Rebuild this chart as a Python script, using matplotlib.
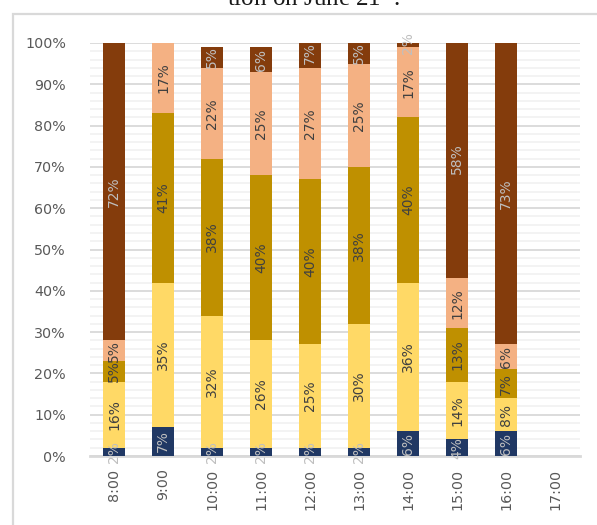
import numpy as np
import matplotlib.pyplot as plt
from matplotlib.patches import Rectangle

# hourly shares (%) per category, bottom to top of each stack
times = ['8:00', '9:00', '10:00', '11:00', '12:00', '13:00', '14:00', '15:00', '16:00', '17:00']
navy = [2, 7, 2, 2, 2, 2, 6, 4, 6, 0]
yellow = [16, 35, 32, 26, 25, 30, 36, 14, 8, 0]
gold = [5, 41, 38, 40, 40, 38, 40, 13, 7, 0]
salmon = [5, 17, 22, 25, 27, 25, 17, 12, 6, 0]
brown = [72, 0, 5, 6, 7, 5, 2, 58, 73, 0]

series = [navy, yellow, gold, salmon, brown]
colors = ['#203864', '#FFD966', '#BF9000', '#F4B183', '#843C0C']
label_colors = ['#BFBFBF', '#404040', '#404040', '#404040', '#BFBFBF']

plt.rcParams['font.family'] = 'DejaVu Sans'

fig = plt.figure(figsize=(5.97, 5.25), dpi=100)
ax = fig.add_axes([89.5 / 597, 69 / 525, 490 / 597, 413 / 525])

# outer chart frame, runs off the right and bottom edges
fig.patches.append(Rectangle((13 / 597, -0.1), 1.2, 1.1 - 14 / 525,
                             transform=fig.transFigure, fill=False,
                             edgecolor='#D9D9D9', linewidth=1.6))

fig.text(313 / 597, 1 - 5.5 / 525, 'tion on June 21$^{\\mathregular{st}}$.',
         ha='center', va='baseline', fontsize=18,
         family='Liberation Serif', color='#1a1a1a')

x = np.arange(len(times))
bottom = np.zeros(len(times))
for vals, c, lc in zip(series, colors, label_colors):
    v = np.array(vals) / 100.0
    ax.bar(x, v, 0.45, bottom=bottom, color=c, linewidth=0, zorder=3)
    for xi, b, h in zip(x, bottom, v):
        if h > 0:
            ax.text(xi, b + h / 2, f'{round(h * 100)}%', rotation=90,
                    ha='center', va='center', fontsize=10, color=lc,
                    zorder=4, clip_on=False)
    bottom = bottom + v

ax.set_xlim(-0.5, len(times) - 0.5)
ax.set_ylim(0, 1)
ax.set_yticks(np.arange(0, 1.01, 0.1))
ax.set_yticklabels([f'{int(round(t * 100))}%' for t in np.arange(0, 1.01, 0.1)])
ax.set_yticks(np.arange(0, 1.01, 0.02), minor=True)
ax.set_xticks(x)
ax.set_xticklabels(times, rotation=90)

ax.grid(axis='y', which='major', color='#D9D9D9', linewidth=1.3, zorder=0)
ax.grid(axis='y', which='minor', color='#F2F2F2', linewidth=1.3, zorder=0)
ax.set_axisbelow(True)
for s in ['top', 'right', 'left']:
    ax.spines[s].set_visible(False)
ax.spines['bottom'].set_color('#D9D9D9')
ax.spines['bottom'].set_linewidth(2)
ax.spines['bottom'].set_zorder(2)
ax.tick_params(axis='both', which='both', length=0, labelsize=10.3, colors='#595959')
ax.tick_params(axis='x', pad=9)
ax.tick_params(axis='y', pad=17)

fig.savefig('out.png', dpi=100)
